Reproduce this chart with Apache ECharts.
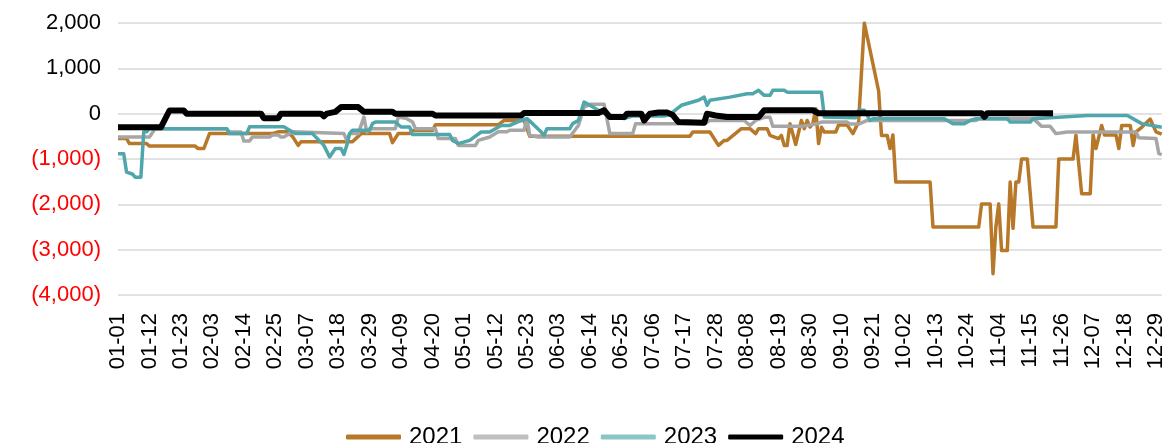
<!DOCTYPE html>
<html>
<head>
<meta charset="utf-8">
<script src="https://cdn.jsdelivr.net/npm/echarts@6/dist/echarts.min.js"></script>
<style>
  html, body { margin: 0; padding: 0; background: #fff; }
  #chart { width: 1167px; height: 443px; }
</style>
</head>
<body>
<div id="chart"></div>
<script>
// 月份天数（按闰年日历，x轴为 MM-DD）
var monthDays = [31, 29, 31, 30, 31, 30, 31, 31, 30, 31, 30, 31];
var days = [];
for (var m = 0; m < 12; m++) {
  for (var d = 1; d <= monthDays[m]; d++) {
    days.push((m < 9 ? '0' : '') + (m + 1) + '-' + (d < 10 ? '0' : '') + d);
  }
}

var seriesNames = ['2021', '2022', '2023', '2024'];
var yTicks = [-4000, -3000, -2000, -1000, 0, 1000, 2000];

// [日序号, 数值]，从图上读出的拐点
var data2021 = [[0,-550],[3,-550],[4,-660],[10,-660],[11,-715],[27,-715],[28,-770],[30,-770],[32,-440],[54,-440],[56,-400],[59,-400],
  [61,-500],[63,-700],[64,-620],[82,-620],[85,-440],[95,-440],[96,-640],[98,-440],[102,-440],[103,-370],[110,-370],[111,-245],
  [133,-245],[135,-150],[142,-150],[144,-500],[200,-500],[201,-405],[207,-405],[210,-700],[212,-590],[213,-590],[218,-330],
  [221,-330],[223,-440],[224,-330],[227,-330],[228,-480],[231,-550],[232,-480],[233,-700],[234,-700],[235,-220],[237,-680],
  [239,-150],[240,-330],[241,-150],[242,-295],[243,-220],[244,110],[245,-660],[246,-300],[247,-405],[251,-405],[252,-250],
  [255,-250],[257,-440],[259,-185],[261,2000],[265,800],[266,500],[267,-480],[269,-480],[270,-770],[271,-470],[272,-1510],
  [284,-1510],[285,-2500],[301,-2500],[302,-1990],[305,-1990],[306,-3530],[307,-2500],[308,-1990],[309,-3020],[311,-3020],
  [312,-1510],[313,-2530],[314,-1510],[315,-1510],[316,-1000],[318,-1000],[320,-2500],[328,-2500],[329,-1000],[334,-1000],
  [335,-475],[337,-1765],[340,-1765],[341,-470],[342,-770],[344,-260],[345,-470],[349,-470],[350,-770],[351,-260],[354,-260],
  [355,-700],[356,-400],[358,-300],[361,-120],[363,-400],[365,-450]];

var data2022 = [[0,-515],[11,-515],[13,-330],[38,-330],[39,-405],[43,-405],[44,-605],[46,-605],[47,-515],[53,-515],[54,-470],
  [56,-470],[57,-515],[58,-515],[61,-400],[79,-440],[80,-590],[81,-440],[84,-440],[86,-75],[87,-405],[88,-330],[97,-330],
  [98,-75],[101,-110],[103,-185],[104,-330],[111,-330],[112,-550],[118,-550],[119,-700],[125,-700],[126,-590],[130,-515],
  [133,-400],[136,-400],[137,-365],[142,-365],[143,-110],[144,-480],[147,-515],[158,-515],[161,-260],[163,145],[165,205],
  [170,205],[172,-440],[180,-440],[181,-220],[205,-220],[207,-150],[219,-150],[221,-260],[223,-150],[226,-80],[228,-80],
  [229,-280],[239,-280],[244,-230],[246,-185],[255,-185],[256,-230],[259,-230],[262,-150],[300,-150],[301,-110],[320,-110],
  [322,-220],[323,-280],[326,-280],[328,-440],[332,-405],[356,-405],[357,-530],[363,-550],[364,-880],[365,-900]];

var data2023 = [[0,-885],[2,-885],[3,-1290],[5,-1330],[6,-1400],[8,-1400],[9,-400],[10,-400],[11,-330],[38,-330],[39,-440],
  [45,-440],[46,-290],[58,-290],[60,-365],[62,-440],[68,-440],[72,-700],[74,-955],[76,-770],[78,-770],[79,-900],[80,-700],
  [81,-440],[82,-365],[88,-365],[89,-220],[90,-185],[97,-185],[99,-295],[102,-295],[103,-460],[116,-460],[117,-590],
  [119,-660],[123,-590],[127,-405],[130,-405],[134,-260],[137,-260],[141,-150],[143,-110],[145,-220],[148,-405],[149,-480],
  [150,-330],[158,-330],[159,-220],[161,-150],[163,255],[165,185],[168,75],[170,0],[177,-110],[180,-50],[191,-50],[192,-35],
  [194,35],[197,185],[203,295],[205,365],[206,185],[207,295],[214,365],[220,440],[222,440],[224,515],[226,405],[228,405],
  [229,515],[233,515],[234,475],[246,475],[247,-75],[258,-90],[259,75],[261,75],[263,-150],[264,-110],[289,-110],[292,-220],
  [296,-220],[298,-150],[300,-110],[311,-110],[312,-185],[319,-185],[320,-110],[339,-40],[353,-40],[358,-220],[365,-300]];

var data2024 = [[0,-300],[15,-300],[18,70],[23,70],[24,0],[50,0],[51,-100],[56,-100],[57,0],[71,0],[72,-60],[73,0],[76,40],
  [78,145],[84,145],[86,40],[96,40],[97,0],[110,0],[111,-40],[141,-40],[142,15],[168,15],[170,75],[172,-75],[177,-75],
  [178,0],[183,0],[184,-150],[186,0],[189,25],[192,25],[194,-30],[196,-185],[205,-200],[206,0],[209,-40],[213,-75],
  [224,-75],[226,75],[243,75],[245,10],[302,10],[303,-70],[304,10],[327,10]];

var colors = ['#B8782A', '#A6A6A6', '#4FA6AB', '#000000'];
var legendColors = ['#B8782A', '#BFBFBF', '#8CC5C8', '#000000'];
var widths = [3.5, 3.5, 3.5, 6];
var allData = [data2021, data2022, data2023, data2024];

var FONT = "Arial, 'Liberation Sans', sans-serif";

function fmt(v) {
  var s = Math.abs(v).toString().replace(/\B(?=(\d{3})+(?!\d))/g, ',');
  return v < 0 ? '{neg|(' + s + ')}' : s;
}

var series = [];
var legendData = [];
for (var i = 0; i < seriesNames.length; i++) {
  series.push({
    name: seriesNames[i],
    type: 'line',
    data: allData[i],
    symbol: 'none',
    showSymbol: false,
    animation: false,
    lineStyle: { color: colors[i], width: widths[i], join: 'round' },
    itemStyle: { color: legendColors[i] }
  });
  legendData.push({ name: seriesNames[i], icon: 'roundRect' });
}

var myChart = echarts.init(document.getElementById('chart'));
myChart.setOption({
  animation: false,
  grid: { left: 118, right: 0, top: 23, bottom: 148, containLabel: false },
  legend: {
    data: legendData,
    left: 341,
    top: 420,
    itemWidth: 55,
    itemHeight: 5,
    itemGap: 11,
    textStyle: { fontSize: 24, color: '#000', fontFamily: FONT, padding: [0, 0, 0, 3] }
  },
  xAxis: {
    type: 'category',
    data: days,
    boundaryGap: false,
    axisLine: { show: false },
    axisTick: { show: false },
    axisLabel: {
      interval: 10,
      rotate: 90,
      margin: 18,
      fontSize: 22,
      color: '#000',
      fontFamily: FONT
    },
    splitLine: { show: false }
  },
  yAxis: {
    type: 'value',
    min: yTicks[0],
    max: yTicks[yTicks.length - 1],
    interval: 1000,
    axisLine: { show: false },
    axisTick: { show: false },
    axisLabel: {
      margin: 17,
      fontSize: 22,
      color: '#000',
      fontFamily: FONT,
      formatter: fmt,
      rich: { neg: { color: '#FF0000', fontSize: 22, fontFamily: FONT } }
    },
    splitLine: { lineStyle: { color: '#D9D9D9', width: 1.5 } }
  },
  series: series
});
</script>
</body>
</html>
